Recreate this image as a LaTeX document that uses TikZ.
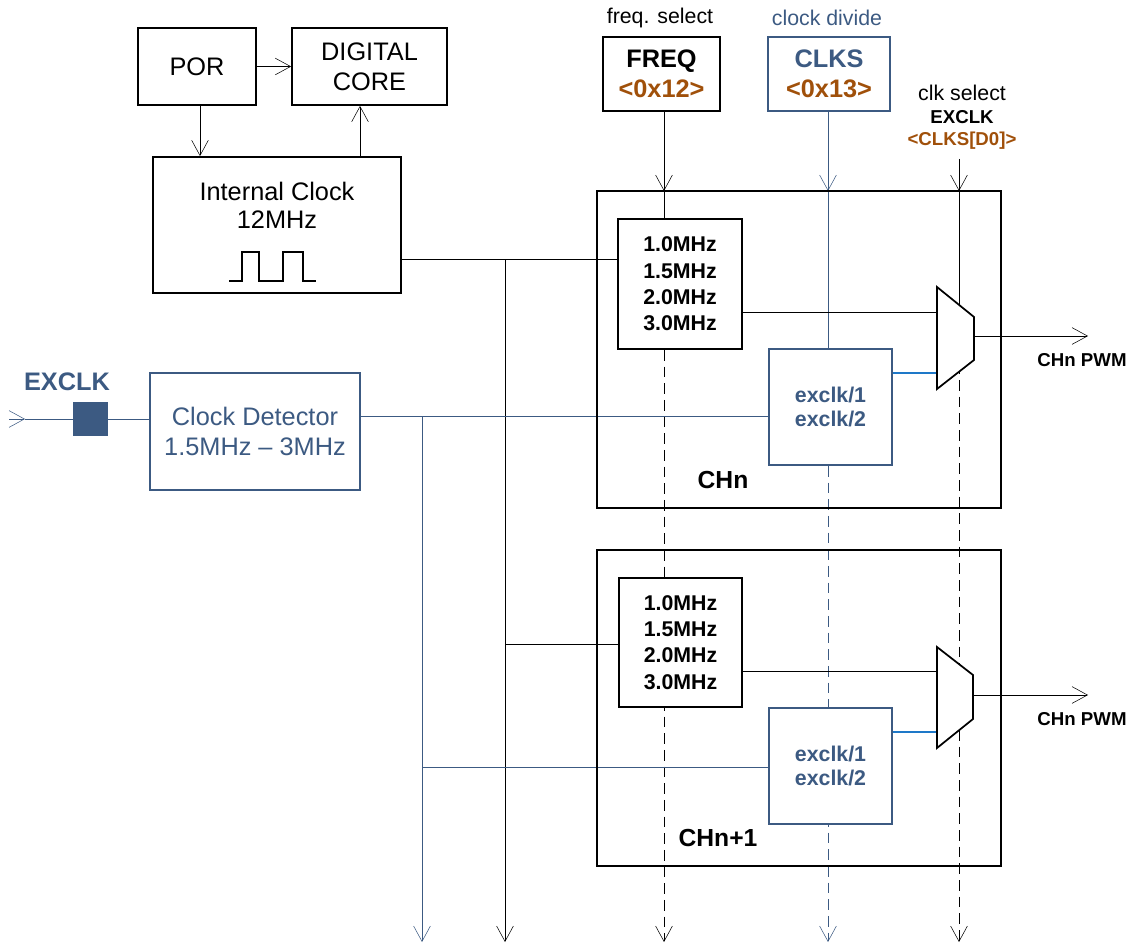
\documentclass[tikz,border=0pt]{standalone}
\usepackage{fontspec}
\setmainfont{Liberation Sans}
\usetikzlibrary{arrows.meta}
\definecolor{cblue}{HTML}{3C5A82}
\definecolor{cbrown}{HTML}{A0500A}
\definecolor{clight}{HTML}{1E78C8}
\newdimen\upx \upx=0.75pt
\newcommand\myfs[2]{\fontsize{#1}{#2}\selectfont}
\pgfdeclarelayer{background}
\pgfsetlayers{background,main}
\begin{document}
\begin{tikzpicture}[x=0.75pt,y=-0.75pt, line width=1.4pt,
  arr/.style={-{Straight Barb[length=11.5pt,width=12.5pt]}},
  box/.style={draw, fill=white, inner sep=0pt, align=center, line width=1.3pt},
  chbox/.style={draw, line width=2.1pt, inner sep=0pt},
  mainfont/.style={font=\myfs{19}{22.5}},
  freqfont/.style={font=\myfs{16}{19.7}\bfseries},
  exfont/.style={font=\myfs{16}{18}\bfseries, text=cblue},
  regfont/.style={font=\myfs{19}{22.5}\bfseries},
  lab/.style={font=\myfs{16}{19}, inner sep=0pt},
  small/.style={font=\myfs{14}{17}\bfseries, inner sep=0pt},
  chlab/.style={font=\myfs{18.5}{22}\bfseries, inner sep=0pt},
  dsh/.style={dash pattern=on 8pt off 4.5pt},
  bl/.style={draw=cblue, color=cblue}
]
\useasboundingbox (0,0) rectangle (1134,945);

% ---- boxes ----
\node[box, mainfont, minimum width=118\upx, minimum height=77\upx] (por) at (197,66.5) {POR};
\node[box, mainfont, minimum width=155\upx, minimum height=77\upx] (dig) at (369.5,66.5) {DIGITAL\\CORE};
\node[box, minimum width=248\upx, minimum height=136\upx] (intclk) at (277,225) {};
\node[mainfont, align=center, inner sep=0pt, font=\myfs{19}{21}] (intlab) at (277,205) {Internal Clock\\12MHz};

\node[box, regfont, minimum width=117\upx, minimum height=74\upx] (freqreg) at (661.5,74) {FREQ\\\textcolor{cbrown}{<0x12>}};
\node[box, regfont, draw=cblue, minimum width=122\upx, minimum height=74\upx] (clksreg) at (829,74) {\textcolor{cblue}{CLKS}\\\textcolor{cbrown}{<0x13>}};

\node[chbox, minimum width=404\upx, minimum height=317\upx] (ch1) at (799,349.5) {};
\node[chbox, minimum width=404\upx, minimum height=316\upx] (ch2) at (799,708) {};

\node[box, freqfont, minimum width=124\upx, minimum height=130\upx] (f1) at (680,284) {1.0MHz\\1.5MHz\\2.0MHz\\3.0MHz};
\node[box, exfont, draw=cblue, minimum width=123\upx, minimum height=116\upx] (e1) at (830.5,407) {exclk/1\\exclk/2};
\node[box, freqfont, minimum width=123\upx, minimum height=129\upx] (f2) at (680.5,642.5) {1.0MHz\\1.5MHz\\2.0MHz\\3.0MHz};
\node[box, exfont, draw=cblue, minimum width=123\upx, minimum height=116\upx] (e2) at (830.5,766) {exclk/1\\exclk/2};

\node[box, mainfont, draw=cblue, text=cblue, minimum width=210\upx, minimum height=117\upx] (det) at (255,431.5) {Clock Detector\\1.5MHz – 3MHz};
\node[draw=cblue, fill=cblue, inner sep=0pt, minimum width=33\upx, minimum height=32\upx] (pad) at (90.5,419) {};

% ---- labels ----
\node[lab] (fsel) at (660,18) {freq. select};
\node[lab, text=cblue] (cdiv) at (827,18) {clock divide};
\node[lab] (csel) at (962,93) {clk select};
\node[small] (csel2) at (962,117) {EXCLK};
\node[small, text=cbrown] (csel3) at (962,141) {<CLKS[D0]>};
\node[font=\myfs{19}{22}\bfseries, text=cblue, inner sep=0pt] (exlab) at (67,382) {EXCLK};
\node[chlab] (chn) at (723,480) {CHn};
\node[chlab] (chn1) at (718,838) {CHn+1};
\node[small] (pwm1) at (1082,360) {CHn PWM};
\node[small] (pwm2) at (1082,719) {CHn PWM};

% ---- coordinates ----
\coordinate (bot) at (0,942);
\coordinate (fin) at (664,191);
\coordinate (cin) at (828,191);
\coordinate (sin) at (959,191);
\coordinate (stop) at (959,159);
\coordinate (smid) at (959,330);
\coordinate (pd) at (200,0);
\coordinate (du) at (360,0);
\coordinate (bj) at (505,259);
\coordinate (bj2) at (505,644);
\coordinate (dj) at (422,416);
\coordinate (dj2) at (422,767);
\coordinate (exin) at (9,419);
\coordinate (exar) at (25,419);
\coordinate (m1a) at (937,312);
\coordinate (m1b) at (937,373);
\coordinate (m1o) at (974,336);
\coordinate (o1) at (1088,336);
\coordinate (m2a) at (937,671);
\coordinate (m2b) at (937,732);
\coordinate (m2o) at (973,695);
\coordinate (o2) at (1088,695);

% ---- connectors (under boxes) ----
\begin{pgfonlayer}{background}
\draw[arr] (por.east) -- (dig.west);
\draw[arr] (pd |- por.south) -- (pd |- intclk.north);
\draw[arr] (du |- intclk.north) -- (du |- dig.south);

\draw[arr] (fin |- freqreg.south) -- (fin);
\draw (fin) -- (fin |- f1.north);
\draw[arr, dsh] (fin |- f1.south) -- (fin |- bot);

\draw[arr, bl] (cin |- clksreg.south) -- (cin);
\draw[bl] (cin) -- (cin |- e1.north);
\draw[arr, bl, dsh] (cin |- e1.south) -- (cin |- bot);

\draw[arr] (stop) -- (sin);
\draw (sin) -- (smid);
\draw[arr, dsh] (smid) -- (smid |- bot);

\draw (intclk.east |- bj) -- (f1.west |- bj);
\draw[arr] (bj) -- (bj |- bot);
\draw (bj2) -- (f2.west |- bj2);

\draw[bl] (det.east |- dj) -- (e1.west |- dj);
\draw[arr, bl] (dj) -- (dj |- bot);
\draw[bl] (dj2) -- (e2.west |- dj2);

\draw[bl, arr] (exin) -- (exar);
\draw[bl] (exar) -- (pad.west);
\draw[bl] (pad.east) -- (det.west |- pad.east);

\draw (f1.east |- m1a) -- (m1a);
\draw[clight, line width=1.6pt] (e1.east |- m1b) -- (m1b);
\draw[arr] (m1o) -- (o1);
\draw (f2.east |- m2a) -- (m2a);
\draw[clight, line width=1.6pt] (e2.east |- m2b) -- (m2b);
\draw[arr] (m2o) -- (o2);
\end{pgfonlayer}

% ---- muxes ----
\draw[fill=white, line width=1.3pt] (937,287) -- (974,317) -- (974,360) -- (937,389) -- cycle;
\draw[fill=white, line width=1.3pt] (937,647) -- (973,675) -- (973,719) -- (937,748) -- cycle;

% ---- waveform ----
\draw[line width=2.2pt] (229,281) -- (242,281) -- (242,252) -- (259,252) -- (259,281) -- (283,281) -- (283,252) -- (303,252) -- (303,281) -- (316,281);
\end{tikzpicture}
\end{document}
